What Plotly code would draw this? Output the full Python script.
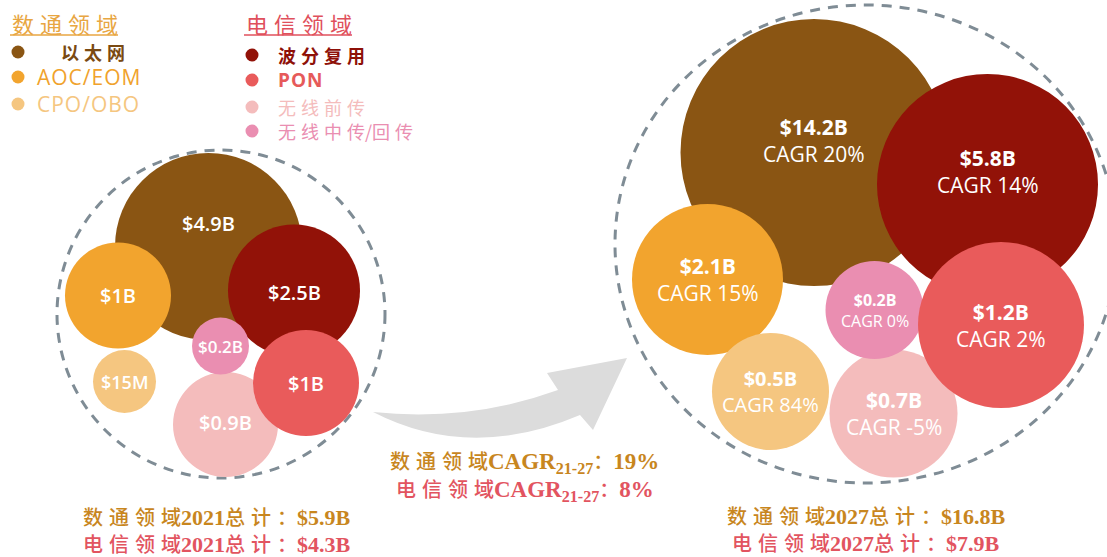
import re
import plotly.graph_objects as go

# ---------------- data ----------------
categories = ["以太网", "AOC/EOM", "CPO/OBO", "波分复用", "PON", "无线前传", "无线中传/回传"]
domains = ["数通", "数通", "数通", "电信", "电信", "电信", "电信"]
values_2021 = [4.9, 1.0, 0.015, 2.5, 1.0, 0.9, 0.2]          # $B
labels_2021 = ["$4.9B", "$1B", "$15M", "$2.5B", "$1B", "$0.9B", "$0.2B"]
values_2027 = [14.2, 2.1, 0.5, 5.8, 1.2, 0.7, 0.2]           # $B
labels_2027 = ["$14.2B", "$2.1B", "$0.5B", "$5.8B", "$1.2B", "$0.7B", "$0.2B"]
cagr_2027 = [20, 15, 84, 14, 2, -5, 0]                       # %
total_datacom = {"2021": "$5.9B", "2027": "$16.8B"}
total_telecom = {"2021": "$4.3B", "2027": "$7.9B"}
cagr_datacom = 19
cagr_telecom = 8

# ---------------- layout (positions / sizes / styles) ----------------
W, H = 1107, 557
colors = ["#8a5513", "#f2a42e", "#f5c680", "#921208", "#e95b5b", "#f4bcbc", "#ea8eb1"]
legend_text_colors = ["#7a4a12", "#f0a22c", "#f5c680", "#8e1008", "#e65a5a", "#f4bcbc", "#ea8eb1"]

c21_x = [208.5, 118, 124.5, 294, 306, 225.5, 220.5]
c21_y = [246.5, 295.5, 381.5, 290.5, 383, 424.5, 346]
r21 = [93.5, 53, 31.5, 66, 53, 52.5, 28.5]
lab21_dy = [-23, 0, 0, 2, 0, -2, 0]
font21 = [20, 20, 18, 20, 20, 20, 17]
order21 = [0, 1, 2, 3, 5, 4, 6]

c27_x = [814, 707.5, 770.5, 987.5, 1001, 893.5, 874.5]
c27_y = [152.5, 279.5, 391.5, 184.5, 325, 413.5, 310]
r27 = [133.5, 75.5, 58.5, 110.5, 83, 64, 49]
lab27_dy = [-12, 0, 0, -13, 0, 0, 0]
font27 = [21, 21, 20, 21, 21, 21, 16]
order27 = [0, 3, 1, 2, 5, 6, 4]

outer21 = (221, 314, 164, 164)
outer27 = (866, 244, 251, 239)

GOLD = "#c8861e"
RED = "#e25460"
LABEL_FONT = "Open Sans, Noto Sans, sans-serif"
CJK_SERIF = "Liberation Serif, Noto Sans CJK SC, serif"

CJK_RUN = re.compile(r"([\u2e80-\uffff]+)")


def spaced(text, size, ls, weight="normal"):
    """wrap runs of CJK characters in a letter-spaced span (no trailing space)"""
    def rep(m):
        run = m.group(1)
        base = f"font-size:{size}px;font-weight:{weight}"
        out = ""
        if len(run) > 1:
            out += f'<span style="{base};letter-spacing:{ls}px">{run[:-1]}</span>'
        out += f'<span style="{base}">{run[-1]}</span>'
        return out
    return CJK_RUN.sub(rep, text)


shapes = []
annotations = []


def circle(cx, cy, rx, ry, **kw):
    d = dict(type="circle", xref="x", yref="y", x0=cx - rx, x1=cx + rx,
             y0=cy - ry, y1=cy + ry, layer="above")
    d.update(kw)
    return d


# arrow (decorative)
path = ("M 373,412 Q 470,422 558,390 L 547,373 L 627,358 L 593,430 L 580,415 "
        "Q 470,462 373,412 Z")
shapes.append(dict(type="path", xref="x", yref="y", path=path,
                   fillcolor="#dcdcdc", line=dict(width=0), layer="above"))

# outer dashed circles
for (cx, cy, rx, ry) in (outer21, outer27):
    shapes.append(circle(cx, cy, rx, ry, fillcolor="rgba(0,0,0,0)",
                         line=dict(color="#7f8c95", width=3, dash="10px,8px")))

# bubbles 2021
for i in order21:
    shapes.append(circle(c21_x[i], c21_y[i], r21[i], r21[i],
                         fillcolor=colors[i], line=dict(width=0)))
    annotations.append(dict(x=c21_x[i], y=c21_y[i] + lab21_dy[i], xref="x", yref="y",
                            text=labels_2021[i], showarrow=False,
                            font=dict(family=LABEL_FONT, size=font21[i], color="white", weight=600)))

# bubbles 2027
for i in order27:
    shapes.append(circle(c27_x[i], c27_y[i], r27[i], r27[i],
                         fillcolor=colors[i], line=dict(width=0)))
    annotations.append(dict(x=c27_x[i], y=c27_y[i] + lab27_dy[i], xref="x", yref="y",
                            text=f"<b>{labels_2027[i]}</b><br>CAGR {cagr_2027[i]}%",
                            showarrow=False,
                            font=dict(family=LABEL_FONT, size=font27[i], color="white")))

# legend
legend_cols = {"数通": (18, 35, "数通领域", "#e8a642", 10, 118),
               "电信": (252, 276, "电信领域", "#e0505c", 244, 352)}
legend_y = {"数通": [52, 77, 104], "电信": [55, 80, 107, 131]}
for dom, (dot_x, txt_x, title, tcol, ul0, ul1) in legend_cols.items():
    annotations.append(dict(x=ul0, y=23, xref="x", yref="y", xanchor="left", yanchor="middle",
                            text=spaced(title, 22, 6), showarrow=False,
                            font=dict(family="Noto Sans CJK SC", size=22, color=tcol)))
    shapes.append(dict(type="line", xref="x", yref="y", x0=ul0, x1=ul1, y0=35, y1=35,
                       line=dict(color=tcol, width=1.5), layer="above"))
    idxs = [i for i, d in enumerate(domains) if d == dom]
    for k, i in enumerate(idxs):
        yy = legend_y[dom][k]
        shapes.append(circle(dot_x, yy, 6.5, 6.5, fillcolor=colors[i], line=dict(width=0)))
        is_cjk = any(ord(ch) > 0x2e80 for ch in categories[i])
        tx = txt_x + (24 if (dom == "数通" and k == 0) else 0)
        if is_cjk:
            txt = spaced(categories[i], 18, 5, "bold" if i in (0, 3) else "normal")
            fnt = dict(family="Noto Sans CJK SC", size=18, color=legend_text_colors[i])
        else:
            txt = f'<span style="letter-spacing:1px">{categories[i]}</span>'
            fnt = dict(family=LABEL_FONT, size=21 if i != 4 else 19,
                       color=legend_text_colors[i], weight=700 if i == 4 else 400)
        annotations.append(dict(x=tx, y=yy, xref="x", yref="y", xanchor="left", yanchor="middle",
                                text=txt, showarrow=False, font=fnt))


# totals and CAGR text
def add_text(x, y, text, color, size=22, cjk_size=20, ls=6):
    annotations.append(dict(x=x, y=y, xref="x", yref="y", xanchor="center", yanchor="middle",
                            text=spaced(text, cjk_size, ls, "500"), showarrow=False,
                            font=dict(family=CJK_SERIF, size=size, color=color, weight="bold")))


add_text(217, 517, f"数通领域2021总计：{total_datacom['2021']}", GOLD)
add_text(217, 544, f"电信领域2021总计：{total_telecom['2021']}", RED)
add_text(866, 516, f"数通领域2027总计：{total_datacom['2027']}", GOLD)
add_text(866, 543, f"电信领域2027总计：{total_telecom['2027']}", RED)
add_text(524, 463, f"数通领域CAGR<sub>21-27</sub>：{cagr_datacom}%", GOLD, size=23)
add_text(525, 491, f"电信领域CAGR<sub>21-27</sub>：{cagr_telecom}%", RED, size=23)

fig = go.Figure()
fig.add_trace(go.Scatter(x=[0, W], y=[0, H], mode="markers",
                         marker=dict(opacity=0), hoverinfo="skip", showlegend=False))
fig.update_layout(
    width=W, height=H, autosize=False,
    margin=dict(l=0, r=0, t=0, b=0),
    paper_bgcolor="white", plot_bgcolor="white",
    xaxis=dict(range=[0, W], visible=False, fixedrange=True),
    yaxis=dict(range=[H, 0], visible=False, fixedrange=True),
    shapes=shapes, annotations=annotations, showlegend=False,
)
fig.write_html("out.html", config={"displayModeBar": False},
               post_script="document.body.style.margin='0';")
